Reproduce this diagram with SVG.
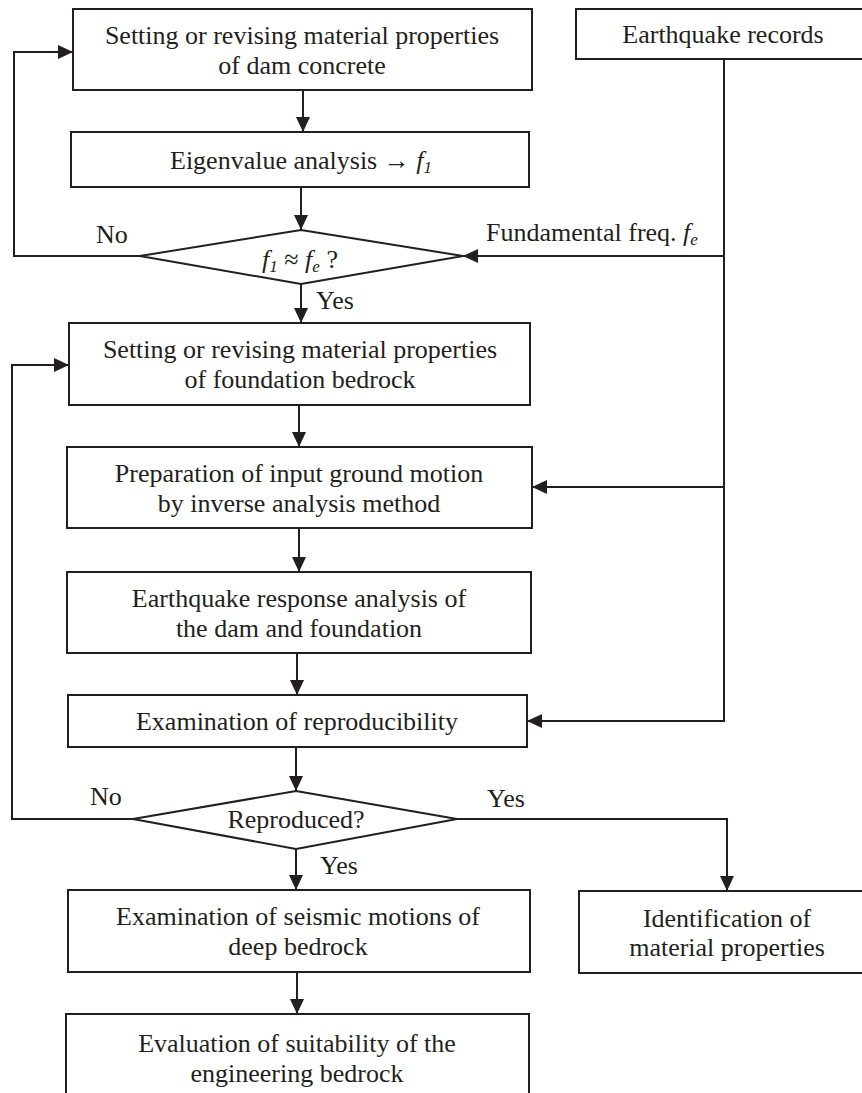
<svg xmlns="http://www.w3.org/2000/svg" width="862" height="1093" viewBox="0 0 862 1093">
<style>
.box{fill:#fff;stroke:#231f20;stroke-width:2}
.ln{fill:none;stroke:#231f20;stroke-width:2}
.t{font-family:"Liberation Serif","Times New Roman",serif;font-size:26px;fill:#231f20}
.c{text-anchor:middle}
.i{font-style:italic}
</style>
<defs>
<marker id="ah" markerUnits="userSpaceOnUse" markerWidth="15" markerHeight="14" refX="15" refY="7" orient="auto">
<path d="M0,0 L15,7 L0,14 z" fill="#231f20"/>
</marker>
</defs>
<rect width="862" height="1093" fill="#fff"/>
<g id="connectors">
<line class="ln" x1="303" y1="90" x2="303" y2="132" marker-end="url(#ah)"/>
<line class="ln" x1="301" y1="187" x2="301" y2="230" marker-end="url(#ah)"/>
<line class="ln" x1="301" y1="284" x2="301" y2="323" marker-end="url(#ah)"/>
<line class="ln" x1="299" y1="405" x2="299" y2="447" marker-end="url(#ah)"/>
<line class="ln" x1="299" y1="528" x2="299" y2="572" marker-end="url(#ah)"/>
<line class="ln" x1="297" y1="653" x2="297" y2="695" marker-end="url(#ah)"/>
<line class="ln" x1="296" y1="747" x2="296" y2="791" marker-end="url(#ah)"/>
<line class="ln" x1="296" y1="849" x2="296" y2="890" marker-end="url(#ah)"/>
<line class="ln" x1="297" y1="972" x2="297" y2="1014" marker-end="url(#ah)"/>
<polyline class="ln" points="140,256 14,256 14,52 73,52" marker-end="url(#ah)"/>
<polyline class="ln" points="133,819 12,819 12,365 69,365" marker-end="url(#ah)"/>
<line class="ln" x1="724" y1="59" x2="724" y2="721"/>
<line class="ln" x1="725" y1="256" x2="463" y2="256" marker-end="url(#ah)"/>
<line class="ln" x1="724" y1="487" x2="532" y2="487" marker-end="url(#ah)"/>
<line class="ln" x1="725" y1="721" x2="527" y2="721" marker-end="url(#ah)"/>
<polyline class="ln" points="457,819 727,819 727,891" marker-end="url(#ah)"/>
<text class="t" x="96" y="243">No</text>
<text class="t" x="316" y="309">Yes</text>
<text class="t" x="486" y="241">Fundamental freq. <tspan class="i">f</tspan><tspan class="i" font-size="17" dy="4">e</tspan></text>
<text class="t" x="90" y="805">No</text>
<text class="t" x="487" y="807">Yes</text>
<text class="t" x="320" y="874">Yes</text>
</g>
<g id="n1">
<rect class="box" x="73" y="9" width="459" height="81"/>
<text class="t c" x="302" y="44">Setting or revising material properties</text>
<text class="t c" x="302" y="74">of dam concrete</text>
</g>
<g id="n_eq">
<rect class="box" x="576" y="9" width="290" height="50"/>
<text class="t c" x="723" y="43">Earthquake records</text>
</g>
<g id="n2">
<rect class="box" x="71" y="132" width="458" height="55"/>
<text class="t c" x="301" y="169">Eigenvalue analysis → <tspan class="i">f</tspan><tspan class="i" font-size="17" dy="4">1</tspan></text>
</g>
<g id="d1">
<polygon class="box" points="301,230 463,256 301,284 140,256"/>
<text class="t c" x="300" y="268"><tspan class="i">f</tspan><tspan class="i" font-size="17" dy="4">1</tspan><tspan dy="-4"> ≈ </tspan><tspan class="i">f</tspan><tspan class="i" font-size="17" dy="4">e</tspan><tspan dy="-4"> ?</tspan></text>
</g>
<g id="n3">
<rect class="box" x="69" y="323" width="461" height="82"/>
<text class="t c" x="300" y="358">Setting or revising material properties</text>
<text class="t c" x="300" y="388">of foundation bedrock</text>
</g>
<g id="n4">
<rect class="box" x="67" y="447" width="465" height="81"/>
<text class="t c" x="299" y="482">Preparation of input ground motion</text>
<text class="t c" x="299" y="512">by inverse analysis method</text>
</g>
<g id="n5">
<rect class="box" x="67" y="572" width="464" height="81"/>
<text class="t c" x="299" y="607">Earthquake response analysis of</text>
<text class="t c" x="299" y="637">the dam and foundation</text>
</g>
<g id="n6">
<rect class="box" x="68" y="695" width="459" height="52"/>
<text class="t c" x="297" y="730">Examination of reproducibility</text>
</g>
<g id="d2">
<polygon class="box" points="296,791 457,819 296,849 133,819"/>
<text class="t c" x="296" y="828">Reproduced?</text>
</g>
<g id="n7">
<rect class="box" x="68" y="890" width="462" height="82"/>
<text class="t c" x="298" y="925">Examination of seismic motions of</text>
<text class="t c" x="298" y="955">deep bedrock</text>
</g>
<g id="n8">
<rect class="box" x="66" y="1014" width="463" height="100"/>
<text class="t c" x="297" y="1052">Evaluation of suitability of the</text>
<text class="t c" x="297" y="1082">engineering bedrock</text>
</g>
<g id="n_id">
<rect class="box" x="579" y="891" width="290" height="82"/>
<text class="t c" x="727" y="927">Identification of</text>
<text class="t c" x="727" y="956">material properties</text>
</g>
</svg>
